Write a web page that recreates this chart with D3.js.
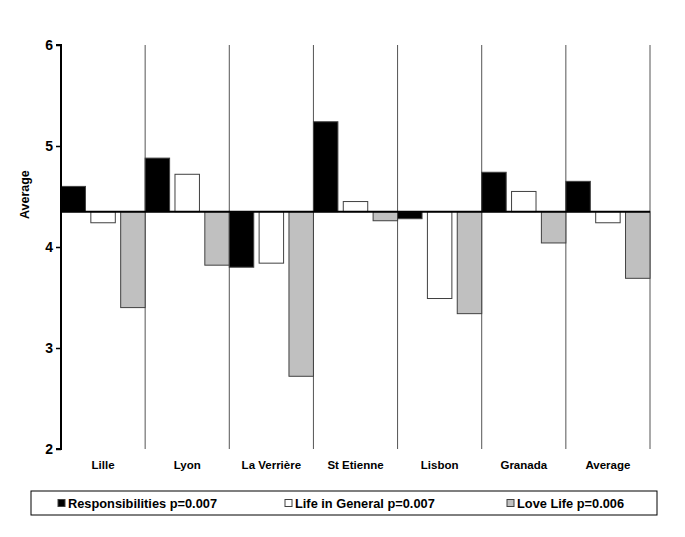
<!DOCTYPE html>
<html>
<head>
<meta charset="utf-8">
<script src="https://cdn.jsdelivr.net/npm/d3@7"></script>
<style>
	body { margin: 0; background: #fff; }
	text { font-family: "Liberation Sans", Arial, sans-serif; font-weight: bold; }
</style>
</head>
<body>
<svg id="chart" width="685" height="537"></svg>
<script>
'use strict';

var cities = ['Lille', 'Lyon', 'La Verrière', 'St Etienne', 'Lisbon', 'Granada', 'Average'];
var seriesNames = ['Responsibilities p=0.007', 'Life in General p=0.007', 'Love Life p=0.006'];
var responsibilities = [4.60, 4.88, 3.80, 5.24, 4.28, 4.74, 4.65];
var lifeInGeneral    = [4.24, 4.72, 3.84, 4.45, 3.49, 4.55, 4.24];
var loveLife         = [3.40, 3.82, 2.72, 4.26, 3.34, 4.04, 3.69];
var yTicks = [2, 3, 4, 5, 6];
var baseline = 4.35;

var colors = ['#000000', '#ffffff', '#c0c0c0'];
var values = [responsibilities, lifeInGeneral, loveLife];

var svg = d3.select('#chart');
var m = { left: 61, right: 35, top: 45, bottom: 88 };
var w = 685 - m.left - m.right;
var h = 537 - m.top - m.bottom;

var g = svg.append('g').attr('transform', 'translate(' + m.left + ',' + m.top + ')');

var x = d3.scaleBand().domain(cities).range([0, w]);
var xi = d3.scaleBand().domain([0, 1, 2]).range([0, x.bandwidth()]).paddingInner(0.18).paddingOuter(0);
var y = d3.scaleLinear().domain([2, 6]).range([h, 0]);

// category separators
g.selectAll('.sep').data(cities)
	.enter().append('line')
	.attr('class', 'sep')
	.attr('x1', function (d) { return x(d) + x.bandwidth(); })
	.attr('x2', function (d) { return x(d) + x.bandwidth(); })
	.attr('y1', 0)
	.attr('y2', h)
	.attr('stroke', '#555')
	.attr('stroke-width', 1);

// bars
var groups = g.selectAll('.grp').data(cities)
	.enter().append('g')
	.attr('class', 'grp')
	.attr('transform', function (d) { return 'translate(' + x(d) + ',0)'; });

groups.each(function (c, ci) {
	var sel = d3.select(this);
	values.forEach(function (vals, si) {
		var v = vals[ci];
		sel.append('rect')
			.attr('x', xi(si))
			.attr('width', xi.bandwidth())
			.attr('y', y(Math.max(v, baseline)))
			.attr('height', Math.abs(y(v) - y(baseline)))
			.attr('fill', colors[si])
			.attr('stroke', '#404040')
			.attr('stroke-width', 1);
	});
});

// baseline
g.append('line')
	.attr('x1', 0).attr('x2', w)
	.attr('y1', y(baseline)).attr('y2', y(baseline))
	.attr('stroke', '#000').attr('stroke-width', 2);

// y axis
var yAxis = g.append('g')
	.call(d3.axisLeft(y).tickValues(yTicks).tickFormat(d3.format('d')).tickSize(5).tickPadding(3));
yAxis.select('.domain').attr('stroke-width', 2).attr('d', 'M-5,' + h + 'H0V0H-5');
yAxis.selectAll('.tick line').attr('stroke-width', 1.5);
yAxis.selectAll('.tick text').style('font-size', '14px');

g.append('text')
	.attr('transform', 'translate(-32,' + (y(baseline) - 17) + ') rotate(-90)')
	.attr('text-anchor', 'middle')
	.style('font-size', '12.5px')
	.text('Average');

// category labels
g.selectAll('.cat').data(cities)
	.enter().append('text')
	.attr('class', 'cat')
	.attr('x', function (d) { return x(d) + x.bandwidth() / 2; })
	.attr('y', h + 20)
	.attr('text-anchor', 'middle')
	.style('font-size', '11.5px')
	.text(function (d) { return d; });

// legend
var legend = svg.append('g').attr('transform', 'translate(31,491)');
legend.append('rect')
	.attr('width', 626).attr('height', 24)
	.attr('fill', '#fff').attr('stroke', '#000').attr('stroke-width', 1);

var lx = [27, 254, 476];
seriesNames.forEach(function (name, i) {
	var it = legend.append('g').attr('transform', 'translate(' + lx[i] + ',12)');
	it.append('rect')
		.attr('x', 0).attr('y', -3.5)
		.attr('width', 7).attr('height', 7)
		.attr('fill', colors[i]).attr('stroke', '#404040').attr('stroke-width', 1);
	it.append('text')
		.attr('x', 10).attr('y', 4.5)
		.style('font-size', '12.8px')
		.text(name);
});
</script>
</body>
</html>
